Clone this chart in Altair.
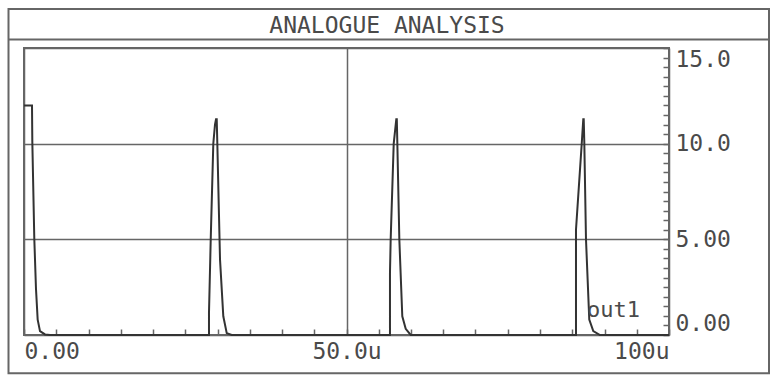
import altair as alt
import pandas as pd

# ---- data ----
time_us = [0.0, 1.24, 1.29, 1.60, 1.86, 2.12, 2.48, 3.26, 4.03,
           28.68, 28.68, 28.95, 29.35, 29.61, 29.77, 29.88, 29.97, 30.39, 30.90, 31.43, 32.20,
           56.74, 56.74, 56.85, 57.32, 57.72, 57.80, 57.88, 58.19, 58.65, 59.18, 59.96,
           85.58, 85.58, 86.47, 86.71, 86.78, 86.87, 87.13, 87.64, 88.26, 89.30,
           100.0]
voltage = [12.0, 12.0, 10.1, 5.0, 2.4, 0.8, 0.2, 0.03, 0.0,
           0.0, 1.15, 5.0, 10.0, 11.0, 11.28, 11.28, 10.05, 3.95, 0.98, 0.1, 0.0,
           0.0, 3.25, 5.0, 10.0, 11.28, 11.28, 10.05, 5.0, 0.98, 0.32, 0.0,
           0.0, 5.5, 10.0, 11.28, 11.28, 10.05, 5.0, 0.81, 0.2, 0.0,
           0.0]

x_tick_values = [0, 50, 100]
x_tick_labels = ["0.00", "50.0u", "100u"]
y_tick_values = [0, 5, 10, 15]
y_tick_labels = ["0.00", "5.00", "10.0", "15.0"]
x_minor_ticks = list(range(0, 101, 5))
y_minor_ticks = [i * 0.5 for i in range(31)]

title_text = "ANALOGUE ANALYSIS"
trace_name = ["out1"]
trace_label_t = [87.3]
trace_label_v = [0.94]

FONT = "DejaVu Sans Mono"
INK = "#4a4a4a"
FRAME = "#666666"
W, H = 645, 287


def label_expr(vals, labs):
    expr = "'" + labs[-1] + "'"
    for v, l in reversed(list(zip(vals[:-1], labs[:-1]))):
        expr = f"datum.value == {v} ? '{l}' : " + expr
    return expr


df = pd.DataFrame({"t": time_us, "v": voltage, "i": list(range(len(time_us)))})
lab_df = pd.DataFrame({"t": trace_label_t, "v": trace_label_v, "name": trace_name})

xs = alt.Scale(domain=[0, 100], nice=False, zero=False)
ys = alt.Scale(domain=[0, 15], nice=False, zero=False)

line = alt.Chart(df).mark_line(color="#333333", strokeWidth=2).encode(
    x=alt.X("t:Q", scale=xs, axis=alt.Axis(
        orient="bottom", values=x_tick_values, labelExpr=label_expr(x_tick_values, x_tick_labels),
        labelFlush=True, grid=True, gridColor=FRAME, gridWidth=1.5, ticks=False, tickSize=0,
        domain=False, labelPadding=5, title=None, labelFont=FONT, labelFontSize=23,
        labelColor=INK)),
    y=alt.Y("v:Q", scale=ys, axis=alt.Axis(
        orient="right", values=y_tick_values, labelExpr=label_expr(y_tick_values, y_tick_labels),
        labelFlush=True, grid=True, gridColor=FRAME, gridWidth=1.5, ticks=False, tickSize=0,
        domain=False, labelPadding=6, title=None, labelFont=FONT, labelFontSize=23,
        labelColor=INK)),
    order=alt.Order("i:Q"),
)

label = alt.Chart(lab_df).mark_text(
    font=FONT, fontSize=22, color=INK, align="left", baseline="alphabetic"
).encode(
    x=alt.X("t:Q", scale=xs, axis=alt.Axis(
        orient="top", offset=-H, values=x_minor_ticks, tickSize=6, tickWidth=1.5,
        tickColor=FRAME, labels=False, domain=False, grid=False, title=None)),
    y=alt.Y("v:Q", scale=ys, axis=alt.Axis(
        orient="left", offset=-W, values=y_minor_ticks, tickSize=6, tickWidth=1.5,
        tickColor=FRAME, labels=False, domain=False, grid=False, title=None)),
    text="name:N",
)

one = alt.Data(values=[{}])
frame = alt.Chart(one).mark_rect(filled=False, stroke=FRAME, strokeWidth=2).encode(
    x=alt.value(-15.5), x2=alt.value(745), y=alt.value(-39), y2=alt.value(325.3))
title_rule = alt.Chart(one).mark_rule(stroke=FRAME, strokeWidth=2).encode(
    x=alt.value(-15.5), x2=alt.value(745), y=alt.value(-8.5))
title = alt.Chart(one).mark_text(
    font=FONT, fontSize=23, color=INK, align="center", baseline="alphabetic", text=title_text
).encode(x=alt.value(363), y=alt.value(-15.5))

chart = alt.layer(line, label, frame, title_rule, title).resolve_axis(
    x="independent", y="independent"
).properties(
    width=W, height=H,
    autosize=alt.AutoSizeParams(type="none"),
    padding={"left": 24, "top": 48, "right": 108, "bottom": 47},
    background="white",
).configure_view(stroke=FRAME, strokeWidth=2)

chart.save("out.html", embed_options={"renderer": "svg", "actions": False})
